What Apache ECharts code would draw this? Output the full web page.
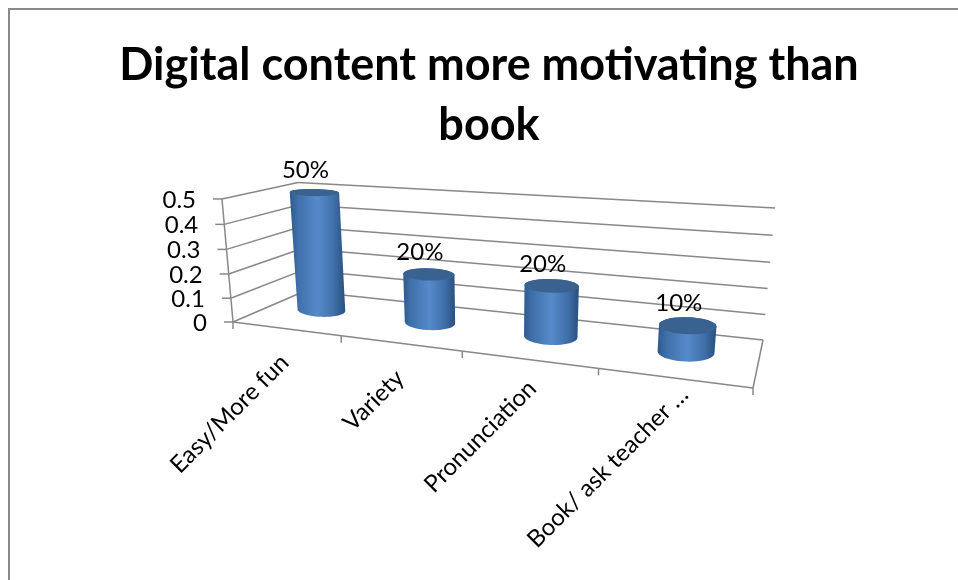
<!DOCTYPE html>
<html>
<head>
<meta charset="utf-8">
<style>html,body{margin:0;padding:0;background:#fff;overflow:hidden}#chart{width:958px;height:580px}</style>
<script src="https://cdn.jsdelivr.net/npm/echarts@6/dist/echarts.min.js"></script>
</head>
<body>
<div id="chart"></div>
<script>
// Chart content
const titleText = 'Digital content more motivating than\nbook';
const categories = ['Easy/More fun', 'Variety', 'Pronunciation', 'Book/ ask teacher …'];
const values = [0.5, 0.2, 0.2, 0.1];
const yTicks = [0, 0.1, 0.2, 0.3, 0.4, 0.5];
const yTickLabels = ['0', '0.1', '0.2', '0.3', '0.4', '0.5'];

// Perspective of the 3D plot: floor corners on screen, vanishing point of the verticals,
// and the strength of the vertical foreshortening
const floorCorners = [[233, 322], [753, 388], [763, 340], [305, 291]];
const verticalVanish = [496, 3260];
const verticalWeight = -0.0402;
// Per-category shift of the rotated axis names
const nameShift = [[-1, 30], [0, 31], [4, 25], [11, 13]];
const FONT = 'Lato, "Open Sans", sans-serif';
const LINE = '#888888';

// Homography taking the unit square to a quadrilateral (front-left, front-right, back-right, back-left)
function squareToQuad(q) {
  const [[x0, y0], [x1, y1], [x2, y2], [x3, y3]] = q;
  const dx1 = x1 - x2, dx2 = x3 - x2, sx = x0 - x1 + x2 - x3;
  const dy1 = y1 - y2, dy2 = y3 - y2, sy = y0 - y1 + y2 - y3;
  const den = dx1 * dy2 - dx2 * dy1;
  const g = (sx * dy2 - dx2 * sy) / den;
  const h = (dx1 * sy - sx * dy1) / den;
  return {
    a: x1 - x0 + g * x1, b: x3 - x0 + h * x3, c: x0,
    d: y1 - y0 + g * y1, e: y3 - y0 + h * y3, f: y0,
    g, h
  };
}
const M = squareToQuad(floorCorners);

// s: along the category axis, t: front to back, f: fraction of the value axis
function project(s, t, f) {
  const k = f * verticalWeight;
  const w = M.g * s + M.h * t + 1 + k;
  return [
    (M.a * s + M.b * t + M.c + k * verticalVanish[0]) / w,
    (M.d * s + M.e * t + M.f + k * verticalVanish[1]) / w
  ];
}

// Reads a data position through the axes, as fractions of the flat grid
function toFractions(api, params, cat, val) {
  const c = api.coord([cat, val]);
  const r = params.coordSys;
  return [(c[0] - r.x) / r.width, (r.y + r.height - c[1]) / r.height];
}

function hull(points) {
  const pts = points.slice().sort((a, b) => a[0] - b[0] || a[1] - b[1]);
  const cross = (o, a, b) => (a[0] - o[0]) * (b[1] - o[1]) - (a[1] - o[1]) * (b[0] - o[0]);
  const build = list => {
    const out = [];
    for (const p of list) {
      while (out.length > 1 && cross(out[out.length - 2], out[out.length - 1], p) <= 0) out.pop();
      out.push(p);
    }
    out.pop();
    return out;
  };
  return build(pts).concat(build(pts.slice().reverse()));
}

function seg(a, b, width) {
  return {
    type: 'line',
    shape: { x1: a[0], y1: a[1], x2: b[0], y2: b[1] },
    style: { stroke: LINE, lineWidth: width || 1.5, fill: null }
  };
}
function label(text, x, y, size, align, rotation) {
  return {
    type: 'text', x, y, rotation: rotation || 0,
    style: { text, fill: '#000', font: size + 'px ' + FONT, align, verticalAlign: 'middle' }
  };
}

// Value gridlines running along the left wall and the back wall
function renderWall(params, api) {
  const tick = api.value(0);
  const [, f] = toFractions(api, params, 0, tick);
  const a = project(0, 0, f), b = project(0, 1, f), c = project(1, 1, f);
  const children = [
    seg(a, b), seg(b, c),
    seg(a, [a[0] - 9, a[1]]),
    label(yTickLabels[params.dataIndex], a[0] - 26, a[1] + 1, 24, 'right')
  ];
  if (tick === 0) {
    children.push(seg(project(0, 0, 0), project(1, 0, 0)));
    children.push(seg(project(1, 0, 0), project(1, 1, 0)));
    children.push(seg(project(0, 0, 0), project(0, 0, 1)));
    const end = project(1, 0, 0);
    children.push(seg(end, [end[0], end[1] + 7]));
  }
  return { type: 'group', children };
}

// Category ticks and rotated names below the front edge of the floor
function renderCategory(params, api) {
  const i = api.value(0);
  const [mid] = toFractions(api, params, i, 0);
  const half = api.size([1, 0])[0] / 2 / params.coordSys.width;
  const edge = project(mid - half, 0, 0);
  const centre = project(mid, 0, 0);
  return {
    type: 'group',
    children: [
      seg(edge, [edge[0], edge[1] + 7]),
      label(categories[i], centre[0] + nameShift[i][0], centre[1] + nameShift[i][1], 24, 'right', Math.PI / 4)
    ]
  };
}

// One cylinder standing on the floor, drawn from its value
function renderCylinder(params, api) {
  const i = api.value(0), v = api.value(1);
  const [sRaw, f] = toFractions(api, params, i, v);
  const s = sRaw - 0.006 + 0.008 * sRaw;
  const rs = 0.059 - 0.011 * sRaw, rt = 0.21, tc = 0.53;
  // The end caps keep a nearly level major axis, sized by the local perspective
  const ring = h => {
    const c = project(s, tc, h);
    const e = project(s + rs, tc, h);
    const ry = (project(s, tc - rt, h)[1] - project(s, tc + rt, h)[1]) / 2;
    const out = [];
    for (let k = 0; k < 48; k++) {
      const a = k / 48 * Math.PI * 2;
      out.push([
        c[0] + (e[0] - c[0]) * Math.cos(a),
        c[1] + 0.3 * (e[1] - c[1]) * Math.cos(a) + ry * Math.sin(a)
      ]);
    }
    return out;
  };
  const top = ring(f), bottom = ring(0);
  const c = project(s, tc, f);
  const bodyFill = new echarts.graphic.LinearGradient(0, 0, 1, 0, [
    { offset: 0, color: '#2d5a8e' },
    { offset: 0.14, color: '#3e6fa8' },
    { offset: 0.5, color: '#568aca' },
    { offset: 0.8, color: '#3f6fa8' },
    { offset: 1, color: '#294f7e' }
  ]);
  return {
    type: 'group',
    children: [
      { type: 'polygon', shape: { points: hull(top.concat(bottom)) }, style: { fill: bodyFill } },
      { type: 'polygon', shape: { points: top }, style: { fill: '#3a6290' } },
      label(Math.round(v * 100) + '%', c[0] - 9, c[1] - 22, 24, 'center')
    ]
  };
}

const chart = echarts.init(document.getElementById('chart'), null, { renderer: 'canvas' });
chart.setOption({
  animation: false,
  backgroundColor: '#fff',
  title: {
    text: titleText, left: 484, top: 30, textAlign: 'center',
    textStyle: { fontFamily: FONT, fontWeight: 'bold', fontSize: 45, lineHeight: 60, color: '#000' }
  },
  grid: { left: 100, right: 100, top: 100, bottom: 100 },
  xAxis: { type: 'category', data: categories, show: false },
  yAxis: { type: 'value', min: 0, max: 0.5, interval: 0.1, show: false },
  graphic: [{
    type: 'rect', silent: true, z: -1,
    shape: { x: 9, y: 9, width: 1000, height: 700 },
    style: { fill: '#fff', stroke: '#8a8a8a', lineWidth: 2 }
  }],
  series: [
    { type: 'custom', name: 'walls', z: 2, renderItem: renderWall, data: yTicks.map(t => [t]), encode: { y: 0 } },
    { type: 'custom', name: 'categories', z: 2, renderItem: renderCategory, data: categories.map((_, i) => [i]), encode: { x: 0 } },
    { type: 'custom', name: 'share', z: 3, renderItem: renderCylinder, data: values.map((v, i) => [i, v]), encode: { x: 0, y: 1 } }
  ]
});
</script>
</body>
</html>
